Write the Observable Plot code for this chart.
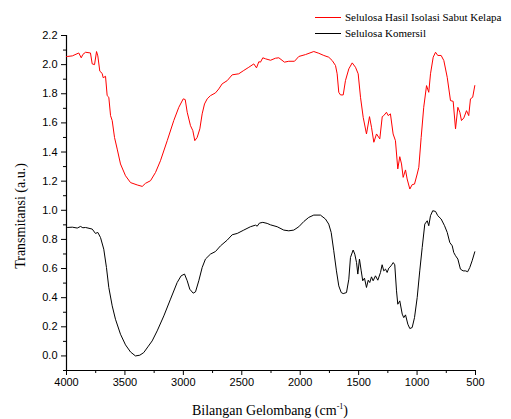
<!DOCTYPE html>
<html><head><meta charset="utf-8">
<script src="https://cdn.jsdelivr.net/npm/d3@7"></script>
<script src="https://cdn.jsdelivr.net/npm/@observablehq/plot@0.6"></script>
<style>
body{margin:0;background:#fff}
#wrap{position:relative;width:511px;height:419px}
#legend{position:absolute;left:315px;top:9px;font-family:"Liberation Serif","Times New Roman",serif;font-size:11px;color:#000;line-height:16px}
#legend .row{display:flex;align-items:center;white-space:nowrap}
#legend .sw{display:inline-block;width:26px;height:0;border-top:1px solid;margin-right:4px}
</style>
</head><body><div id="wrap"><div id="legend"></div></div>
<script>
const seriesNames = ["Selulosa Hasil Isolasi Sabut Kelapa", "Selulosa Komersil"];
const seriesColors = ["#ff0000", "#000000"];

const redWn = [4000,3994,3950,3895,3874,3860,3837,3795,3780,3760,3743,3732,3715,3695,3686,3666,3652,3638,3623,3609,3589,3566,3538,3495,3452,3395,3352,3324,3281,3238,3196,3138,3082,3039,3001,2984,2967,2939,2919,2902,2882,2859,2839,2819,2796,2768,2725,2697,2668,2625,2582,2526,2483,2440,2397,2374,2354,2340,2320,2297,2254,2212,2183,2135,2098,2049,2012,1955,1884,1841,1798,1756,1726,1698,1684,1670,1655,1632,1613,1584,1555,1527,1504,1484,1461,1433,1407,1390,1370,1347,1319,1298,1285,1262,1247,1228,1205,1185,1165,1148,1133,1119,1099,1085,1062,1042,1022,999,985,965,943,919,900,885,862,842,823,794,771,742,714,691,671,651,634,620,600,577,558,543,524,506];
const redT = [2.056,2.056,2.06,2.08,2.047,2.07,2.085,2.08,2.005,2.0,2.09,2.06,1.955,1.94,1.91,1.92,1.787,1.776,1.65,1.616,1.50,1.42,1.318,1.237,1.19,1.174,1.164,1.185,1.203,1.26,1.34,1.478,1.616,1.707,1.765,1.76,1.673,1.581,1.547,1.478,1.50,1.559,1.662,1.73,1.765,1.787,1.806,1.833,1.868,1.89,1.93,1.937,1.96,1.982,2.005,1.978,2.02,2.017,2.047,2.04,2.03,2.044,2.047,2.017,2.023,2.023,2.056,2.069,2.09,2.078,2.063,2.051,2.028,1.994,1.937,1.81,1.792,1.792,1.89,1.971,2.012,1.982,1.937,1.776,1.638,1.524,1.643,1.57,1.467,1.524,1.49,1.643,1.65,1.673,1.65,1.662,1.524,1.478,1.284,1.368,1.318,1.226,1.277,1.215,1.146,1.176,1.18,1.249,1.295,1.50,1.707,1.856,1.81,1.937,2.051,2.085,2.063,2.063,2.028,1.913,1.753,1.748,1.559,1.707,1.673,1.616,1.634,1.684,1.65,1.765,1.776,1.856];

const blackWn = [4000,3994,3950,3908,3880,3860,3837,3780,3752,3732,3709,3681,3658,3638,3609,3581,3538,3495,3452,3410,3373,3339,3304,3267,3224,3167,3110,3053,3019,2990,2967,2945,2916,2896,2868,2839,2811,2768,2725,2682,2625,2582,2539,2483,2426,2383,2368,2349,2320,2283,2254,2197,2141,2098,2055,2012,1969,1927,1884,1827,1784,1756,1735,1713,1690,1670,1649,1632,1604,1584,1570,1547,1533,1518,1507,1493,1478,1465,1450,1433,1418,1405,1390,1376,1356,1336,1313,1299,1285,1270,1256,1242,1222,1204,1191,1176,1165,1148,1127,1114,1099,1079,1062,1042,1022,999,977,956,934,913,900,885,866,842,823,794,765,742,720,699,686,671,651,629,606,586,567,549,529,506];
const blackT = [0.882,0.882,0.884,0.878,0.889,0.880,0.882,0.871,0.841,0.848,0.813,0.733,0.607,0.47,0.344,0.252,0.149,0.076,0.027,0.0,0.005,0.023,0.062,0.103,0.172,0.275,0.39,0.504,0.55,0.562,0.516,0.458,0.431,0.44,0.516,0.607,0.665,0.699,0.717,0.756,0.795,0.832,0.841,0.864,0.887,0.898,0.891,0.912,0.917,0.91,0.90,0.887,0.864,0.859,0.864,0.887,0.923,0.951,0.967,0.967,0.94,0.905,0.848,0.722,0.584,0.481,0.435,0.428,0.435,0.527,0.676,0.727,0.699,0.641,0.562,0.665,0.584,0.516,0.534,0.47,0.52,0.504,0.543,0.516,0.55,0.52,0.573,0.626,0.584,0.596,0.573,0.603,0.619,0.641,0.626,0.447,0.355,0.378,0.287,0.263,0.282,0.218,0.188,0.195,0.263,0.401,0.584,0.745,0.905,0.928,0.894,0.963,0.997,0.992,0.963,0.94,0.894,0.848,0.779,0.756,0.71,0.688,0.665,0.596,0.584,0.584,0.578,0.607,0.653,0.715];

const xMajor = [4000,3500,3000,2500,2000,1500,1000,500];
const xMinor = [3750,3250,2750,2250,1750,1250,750];
const yMajor = [0.0,0.2,0.4,0.6,0.8,1.0,1.2,1.4,1.6,1.8,2.0,2.2];
const yMinor = [-0.1,0.1,0.3,0.5,0.7,0.9,1.1,1.3,1.5,1.7,1.9,2.1];
const xLabel = "Bilangan Gelombang (cm";
const xLabelSup = "-1";
const yLabel = "Transmitansi (a.u.)";

const red = redWn.map((w,i)=>({wn:w, t:redT[i], s:seriesNames[0]}));
const black = blackWn.map((w,i)=>({wn:w, t:blackT[i], s:seriesNames[1]}));

const tickFont = "Liberation Sans, Arial, sans-serif";
const chart = Plot.plot({
  width: 511, height: 419,
  marginLeft: 66, marginRight: 36, marginTop: 35, marginBottom: 49,
  style: {fontFamily: tickFont, fontSize: "11px", color: "#000", background: "#fff"},
  x: {domain: [4000, 500], label: null},
  y: {domain: [-0.1, 2.2], label: null},
  marks: [
    Plot.axisX({ticks: xMajor, tickSize: 5, tickPadding: 3, tickFormat: d=>String(d), fontSize: 11}),
    Plot.axisX({ticks: xMinor, tickSize: 3, tickFormat: null, text: null}),
    Plot.axisY({ticks: yMajor, tickSize: 5, tickPadding: 4, tickFormat: d3.format(".1f"), fontSize: 11}),
    Plot.axisY({ticks: yMinor, tickSize: 3, text: null}),
    Plot.ruleX([4000], {stroke: "#000", strokeWidth: 1.2}),
    Plot.ruleY([-0.1], {stroke: "#000", strokeWidth: 1.2}),
    Plot.line(black, {x: "wn", y: "t", stroke: seriesColors[1], strokeWidth: 1, curve: "linear"}),
    Plot.line(red, {x: "wn", y: "t", stroke: seriesColors[0], strokeWidth: 1, curve: "linear"})
  ]
});
const wrap = document.getElementById("wrap");
wrap.insertBefore(chart, wrap.firstChild);

const svg = d3.select(chart);
const xt = svg.append("text").attr("x", 270).attr("y", 415).attr("text-anchor","middle")
  .attr("font-family","Liberation Serif, Times New Roman, serif").attr("font-size", 14).attr("fill","#000");
xt.append("tspan").text(xLabel);
xt.append("tspan").attr("dy",-6).attr("font-size",8).text(xLabelSup);
xt.append("tspan").attr("dy",6).text(")");
svg.append("text").attr("transform","translate(25,216) rotate(-90)").attr("text-anchor","middle")
  .attr("font-family","Liberation Serif, Times New Roman, serif").attr("font-size", 14).attr("fill","#000").text(yLabel);

const leg = d3.select("#legend");
seriesNames.forEach((n,i)=>{
  const r = leg.append("div").attr("class","row");
  r.append("span").attr("class","sw").style("border-color", seriesColors[i]);
  r.append("span").text(n);
});
</script>
</body></html>
